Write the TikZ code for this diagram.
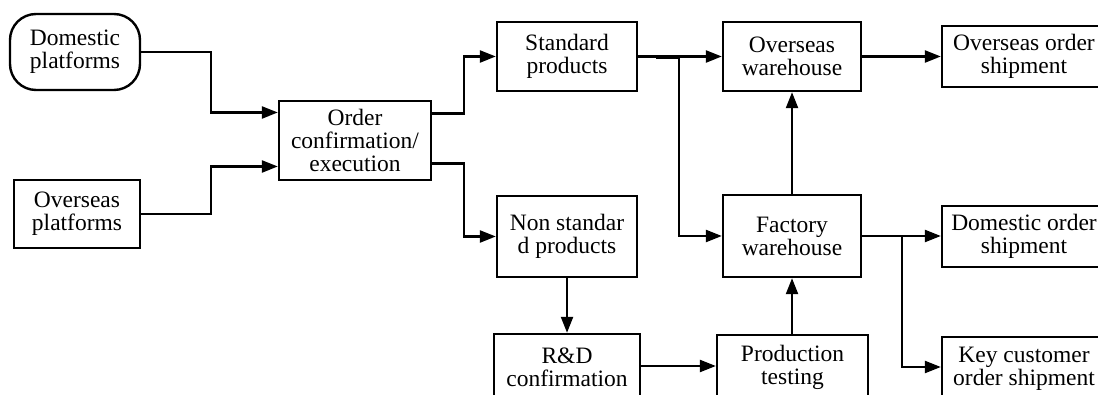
\documentclass[tikz,border=0pt]{standalone}
\usepackage{fontspec}
\setmainfont{Liberation Serif}
\usetikzlibrary{arrows.meta,calc}
\begin{document}
\begin{tikzpicture}[x=1pt,y=-1pt,
  box/.style={draw,line width=2.4pt,rectangle,inner sep=0pt,align=center,
    font=\fontsize{23.5}{23}\selectfont},
  arr/.style={line width=2.3pt,-{Triangle[length=16pt,width=12pt]}}]
\useasboundingbox (0,0) rectangle (1098,395);
\fill[white] (0,0) rectangle (1098,395);
\clip (0,0) rectangle (1098,395);

% sources
\node[box,rounded corners=26pt,minimum width=130pt,minimum height=76pt] (dom) at (75,52) {Domestic\\platforms};
\node[box,minimum width=126pt,minimum height=68pt] (opl) at (77,214) {Overseas\\platforms};

% order handling
\node[box,minimum width=152pt,minimum height=79pt] (order) at (355,140.5) {Order\\confirmation/\\execution};
\node[box,minimum width=140pt,minimum height=69pt] (std) at (567,56.5) {Standard\\products};
\node[box,minimum width=140pt,minimum height=81pt] (ns) at (567,236.5) {Non standar\\d products};
\node[box,minimum width=146pt,minimum height=66pt] (rd) at (567,367) {R\&D\\confirmation};

% warehouses and production
\node[box,minimum width=138pt,minimum height=69pt] (ow) at (792,56.5) {Overseas\\warehouse};
\node[box,minimum width=138pt,minimum height=82pt] (fw) at (792,236) {Factory\\warehouse};
\node[box,minimum width=151pt,minimum height=65pt] (pt) at (792.5,367.5) {Production\\testing};

% shipments
\node[box,minimum width=164pt,minimum height=61pt] (oos) at (1024,56.5) {Overseas order\\shipment};
\node[box,minimum width=164pt,minimum height=61pt] (dos) at (1024,236.5) {Domestic order\\shipment};
\node[box,minimum width=164pt,minimum height=63pt] (kos) at (1024,368.5) {Key customer\\order shipment};

% connectors
\draw[arr] (dom.east) -- ++(70,0) |- ([yshift=28pt]order.west);
\draw[arr] (opl.east) -- ++(70,0) |- ([yshift=-26pt]order.west);
\draw[arr] ([yshift=27pt]order.east) -- ++(32,0) |- (std.west);
\draw[arr] ([yshift=-23pt]order.east) -- ++(32,0) |- (ns.west);
\draw[arr] (std.east) -- (std.east -| ow.west);
\draw[line width=3.8pt] ($(std.east)+(18,1)$) -- ++(23,0);
\draw[arr] ($(std.east)+(41,0)$) |- (fw.west);
\draw[arr] (ow.east) -- (ow.east -| oos.west);
\draw[arr] (fw.north) -- (ow.south);
\draw[arr] (fw.south |- pt.north) -- (fw.south);
\draw[arr] (ns.south) -- (ns.south |- rd.north);
\draw[arr] ([yshift=1pt]rd.east) -- ([yshift=1pt]rd.east -| pt.west);
\draw[arr] (fw.east) -- (fw.east -| dos.west);
\draw[arr] ($(fw.east)+(40,0)$) |- ([yshift=1.5pt]kos.west);
\end{tikzpicture}
\end{document}
